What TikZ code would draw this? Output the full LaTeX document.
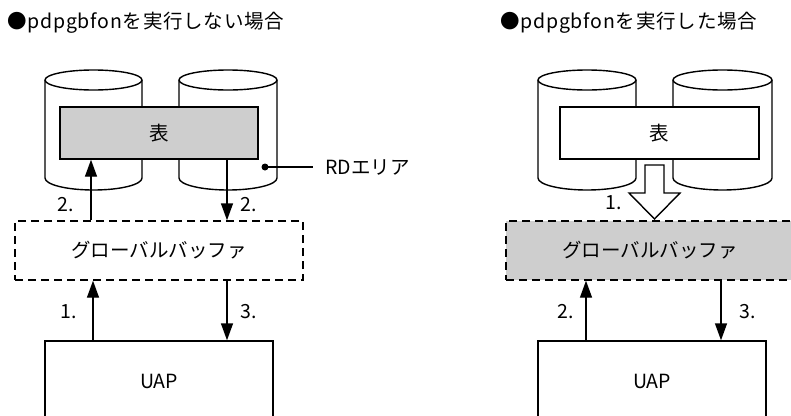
\documentclass[tikz,border=0pt]{standalone}
\usepackage{fontspec}
\setmainfont{Noto Sans CJK JP}
\usetikzlibrary{arrows.meta}
\definecolor{fillgray}{RGB}{206,206,206}
\tikzset{
  every node/.style={font=\fontsize{19.5}{22}\selectfont},
  ln/.style={line width=1.4pt},
  tbl/.style={ln, draw, minimum width=198pt, minimum height=52pt, inner sep=0pt},
  buf/.style={ln, draw, dash pattern=on 8pt off 5pt, minimum width=288pt, minimum height=59pt, inner sep=0pt},
  uap/.style={ln, draw, fill=white, minimum width=228pt, minimum height=80pt, inner sep=0pt},
  arr/.style={ln, -{Triangle[length=17pt,width=12pt]}},
  lbl/.style={inner sep=0pt},
  ttl/.style={inner sep=0pt, anchor=west, font=\fontsize{19.5}{22}\selectfont\addfontfeature{LetterSpace=4}},
}
\newcommand{\cyl}[2]{%
  \draw[ln, fill=white] ({#1-#2},80) -- ({#1-#2},178)
     arc[start angle=180, end angle=360, x radius=#2 pt, y radius=12pt]
     -- ({#1+#2},80)
     arc[start angle=0, end angle=180, x radius=#2 pt, y radius=10pt] -- cycle;
  \draw[ln] ({#1-#2},80) arc[start angle=180, end angle=360, x radius=#2 pt, y radius=10pt];
}
\begin{document}
\begin{tikzpicture}[x=1pt,y=-1pt]
\clip (0,0) rectangle (791,415);
\fill[white] (0,0) rectangle (791,415);

% ---------- left panel ----------
\node[ttl] (title1) at (7,23) {●pdpgbfonを実行しない場合};
\cyl{93.5}{48.5}
\cyl{228}{49}
\node[tbl, fill=fillgray] (t1) at (159,133) {表};
\node[buf] (b1) at (159,250.5) {グローバルバッファ};
\node[uap] (u1) at (159,381) {UAP};

\coordinate (xa) at (91,0);
\coordinate (xb) at (227,0);
\coordinate (xc) at (93,0);
\draw[arr] (xa |- b1.north) -- (xa |- t1.south);
\draw[arr] (xb |- t1.south) -- (xb |- b1.north);
\draw[arr] (xc |- u1.north) -- (xc |- b1.south);
\draw[arr] (xb |- b1.south) -- (xb |- u1.north);
\node[lbl] (l2a) at (66,205) {2.};
\node[lbl] (l2b) at (249,205) {2.};
\node[lbl] (l1a) at (69,312) {1.};
\node[lbl] (l3a) at (249,312) {3.};

\node[circle, fill=black, inner sep=0pt, minimum size=7pt] (dot) at (265,167) {};
\node[lbl, anchor=west] (rd) at (325,167) {RDエリア};
\draw[ln] (dot.center) -- (rd.west -| 313,0);

% ---------- right panel ----------
\node[ttl] (title2) at (500,23) {●pdpgbfonを実行した場合};
\cyl{587}{49}
\cyl{722.5}{49.5}
\node[tbl, fill=white, minimum width=199pt] (t2) at (659.5,133) {表};
\node[buf, fill=fillgray] (b2) at (650,250.5) {グローバルバッファ};
\node[uap] (u2) at (652,381) {UAP};

\draw[ln, fill=white, line join=miter] (645,165) -- (664,165) -- (664,193) -- (680,193)
   -- (654.5,219) -- (629,193) -- (645,193) -- cycle;
\node[lbl] (l1b) at (614,203) {1.};

\coordinate (xd) at (586,0);
\coordinate (xe) at (721,0);
\draw[arr] (xd |- u2.north) -- (xd |- b2.south);
\draw[arr] (xe |- b2.south) -- (xe |- u2.north);
\node[lbl] (l2c) at (566,312) {2.};
\node[lbl] (l3b) at (748,312) {3.};
\end{tikzpicture}
\end{document}
